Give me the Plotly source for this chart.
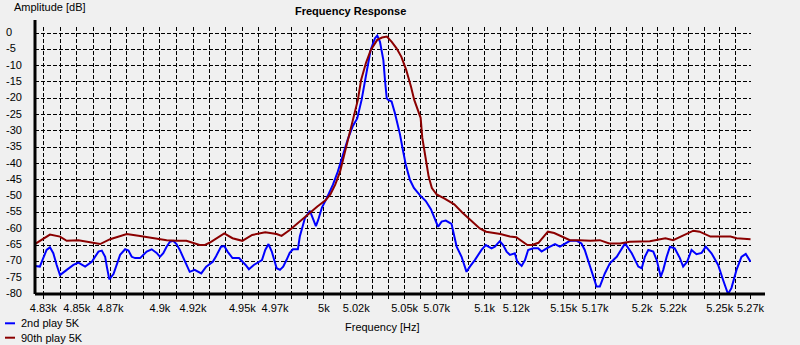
import math
import plotly.graph_objects as go

# ---- data -------------------------------------------------------------
freq_2nd = [4825.0, 4828.0, 4830.0, 4832.0, 4834.0, 4836.0, 4838.0, 4840.0, 4844.0, 4848.0,
            4851.0, 4855.0, 4859.0, 4863.0, 4865.0, 4867.0, 4868.0, 4869.5, 4872.0, 4874.0,
            4876.0, 4879.0, 4881.0, 4883.0, 4885.0, 4888.0, 4892.0, 4895.0, 4898.0, 4900.0,
            4902.0, 4904.0, 4906.0, 4908.0, 4910.0, 4912.0, 4915.0, 4918.0, 4921.0, 4925.0,
            4928.0, 4932.0, 4934.0, 4937.0, 4939.0, 4941.0, 4944.0, 4948.0, 4952.0, 4954.0,
            4957.0, 4959.0, 4962.0, 4964.0, 4966.0, 4968.0, 4971.0, 4973.0, 4975.0, 4977.0,
            4979.0, 4981.0, 4984.0, 4985.2, 4988.3, 4991.4, 4993.5, 4995.1, 4996.5, 4998.8,
            5001.9, 5005.6, 5008.6, 5011.8, 5014.8, 5017.9, 5020.6, 5023.3, 5025.4, 5027.4,
            5028.9, 5031.6, 5033.0, 5034.7, 5036.8, 5037.8, 5038.9, 5039.9, 5041.9, 5044.0,
            5045.1, 5047.1, 5049.0, 5050.8, 5053.3, 5055.8, 5059.5, 5063.2, 5066.4, 5068.9,
            5070.9, 5073.1, 5075.7, 5079.3, 5082.5, 5085.6, 5088.7, 5090.8, 5093.9, 5098.1,
            5100.8, 5104.4, 5106.5, 5109.6, 5111.7, 5113.9, 5116.0, 5119.1, 5120.6, 5123.4,
            5125.5, 5127.5, 5130.6, 5133.8, 5136.0, 5139.2, 5144.5, 5147.6, 5150.8, 5154.0,
            5158.3, 5161.3, 5163.4, 5166.6, 5170.9, 5173.0, 5176.2, 5179.4, 5183.8, 5189.1,
            5193.4, 5197.6, 5199.8, 5201.8, 5204.0, 5207.2, 5209.4, 5212.0, 5213.6, 5215.8,
            5217.9, 5221.0, 5224.3, 5226.4, 5229.0, 5231.8, 5235.0, 5238.3, 5241.0, 5244.7,
            5249.0, 5252.2, 5255.4, 5257.6, 5260.9, 5264.1, 5266.9, 5270.0]
amp_2nd = [-71.4, -71.6, -69.0, -66.5, -65.7, -67.5, -71.1, -74.2, -72.6, -71.1,
           -70.4, -71.6, -70.1, -67.0, -66.7, -68.6, -71.6, -75.5, -73.9, -71.1,
           -68.0, -66.3, -66.7, -68.6, -69.0, -69.0, -67.0, -66.3, -67.4, -68.6,
           -67.5, -65.5, -64.0, -63.7, -64.7, -66.5, -69.6, -73.2, -72.6, -73.7,
           -71.6, -70.1, -68.4, -65.5, -65.3, -67.0, -69.0, -69.0, -71.1, -72.4,
           -71.1, -70.4, -69.6, -66.5, -64.7, -67.0, -72.1, -72.6, -71.6, -69.6,
           -67.4, -66.3, -66.3, -62.4, -56.8, -54.5, -57.3, -59.2, -57.3, -53.5,
           -50.5, -46.5, -42.5, -37.5, -32.5, -28.5, -26.2, -20.5, -14.4, -9.3,
           -5.2, -1.6, -0.8, -2.7, -8.3, -14.4, -20.0, -20.5, -21.0, -24.6,
           -26.7, -31.0, -36.0, -40.5, -45.0, -47.5, -49.7, -51.5, -54.0, -57.3,
           -59.4, -57.8, -57.5, -58.5, -65.5, -68.6, -73.2, -71.6, -69.6, -66.5,
           -65.0, -66.0, -65.5, -63.8, -65.0, -67.0, -68.0, -67.5, -70.1, -71.4,
           -69.6, -66.5, -66.0, -66.0, -67.0, -66.0, -64.7, -65.5, -64.5, -63.7,
           -63.7, -64.5, -66.5, -71.6, -77.7, -77.7, -73.7, -70.6, -68.6, -64.5,
           -67.5, -71.6, -72.1, -68.6, -66.5, -67.0, -69.6, -74.7, -72.6, -68.6,
           -65.5, -66.0, -69.0, -71.6, -70.1, -66.5, -67.8, -67.4, -65.5, -67.5,
           -71.1, -75.7, -80.0, -78.2, -72.6, -68.6, -67.7, -70.1]

freq_90th = [4825.0, 4834.0, 4840.0, 4844.0, 4851.0, 4858.0, 4864.0, 4870.0, 4880.0, 4888.0,
             4898.0, 4904.0, 4910.0, 4916.0, 4924.0, 4927.0, 4930.0, 4936.0, 4939.0, 4944.0,
             4950.0, 4956.0, 4964.0, 4971.0, 4974.0, 4979.0, 4985.0, 4988.0, 4991.0, 4996.0,
             5001.0, 5004.0, 5007.0, 5010.0, 5013.0, 5016.0, 5018.0, 5021.0, 5023.0, 5026.0,
             5029.0, 5033.0, 5036.0, 5039.0, 5042.0, 5045.0, 5048.0, 5051.0, 5054.0, 5056.0,
             5060.0, 5061.0, 5063.0, 5065.0, 5067.0, 5070.0, 5075.0, 5081.0, 5086.0, 5091.0,
             5097.0, 5101.0, 5110.0, 5116.0, 5120.0, 5127.0, 5130.0, 5134.0, 5140.0, 5144.0,
             5150.0, 5154.0, 5160.0, 5167.0, 5173.0, 5179.0, 5186.0, 5192.0, 5205.0, 5215.0,
             5220.0, 5226.0, 5233.0, 5237.0, 5244.0, 5257.0, 5261.0, 5270.0]
amp_90th = [-64.7, -61.8, -62.4, -63.7, -63.5, -64.1, -64.7, -63.2, -61.6, -62.2,
            -63.0, -63.5, -63.7, -63.7, -65.0, -65.0, -64.3, -62.4, -61.4, -62.9,
            -63.7, -61.9, -61.1, -61.6, -62.2, -60.4, -57.8, -56.7, -55.2, -53.2,
            -51.3, -49.5, -46.5, -42.5, -36.5, -30.5, -26.0, -20.5, -14.4, -9.2,
            -5.2, -2.1, -1.4, -1.1, -2.7, -4.7, -7.3, -11.3, -16.5, -20.5,
            -26.0, -32.0, -38.0, -44.0, -47.5, -49.5, -50.8, -52.5, -55.0, -57.3,
            -59.9, -60.9, -61.6, -62.4, -62.6, -65.0, -65.0, -64.3, -60.9, -61.3,
            -62.6, -63.5, -63.5, -63.7, -63.5, -64.5, -64.5, -64.0, -63.8, -62.9,
            -63.5, -62.2, -60.6, -60.9, -62.4, -62.4, -62.9, -63.2]

# grid every 10 Hz, labels only on some of them
grid_freqs = list(range(4830, 5271, 10))
labelled = {4830: "4.83k", 4850: "4.85k", 4870: "4.87k", 4900: "4.9k", 4920: "4.92k",
            4950: "4.95k", 4970: "4.97k", 5000: "5k", 5020: "5.02k", 5050: "5.05k",
            5070: "5.07k", 5100: "5.1k", 5120: "5.12k", 5150: "5.15k", 5170: "5.17k",
            5200: "5.2k", 5220: "5.22k", 5250: "5.25k", 5270: "5.27k"}
y_ticks = list(range(0, -81, -5))

# ---- layout geometry --------------------------------------------------
W, H = 800, 345
ML, MR, MT, MB = 35, 49, 27, 51
PW, PH = W - ML - MR, H - MT - MB
FONT = "Liberation Sans, Arial, sans-serif"
BG = "#F0F0F0"
GRID_DASH = "4px,2px"


def px_x(px):
    return (px - ML) / PW


def px_y(py):
    return (H - MB - py) / PH


fig = go.Figure()
fig.add_trace(go.Scatter(x=freq_2nd, y=amp_2nd, mode="lines", name="2nd play 5K",
                         line=dict(color="#0000FF", width=2)))
fig.add_trace(go.Scatter(x=freq_90th, y=amp_90th, mode="lines", name="90th play 5K",
                         line=dict(color="#8B0000", width=2)))

fig.update_layout(
    width=W, height=H,
    margin=dict(l=ML, r=MR, t=MT, b=MB),
    paper_bgcolor=BG, plot_bgcolor=BG,
    showlegend=False,
    font=dict(family=FONT, size=11, color="#000000"),
)

fig.update_xaxes(
    type="log",
    range=[math.log10(4825.1), math.log10(5270.3)],
    tickvals=grid_freqs,
    ticktext=[labelled.get(f, "") for f in grid_freqs],
    ticks="outside", ticklen=4, tickwidth=1, tickcolor="#000000",
    showgrid=True, gridcolor="#000000", gridwidth=1, griddash=GRID_DASH,
    showline=False, zeroline=False,
    tickfont=dict(family=FONT, size=11, color="#000000"),
    ticklabelstandoff=0,
)
fig.update_yaxes(
    range=[-80, -80 + PH / 3.2625],
    tickvals=y_ticks,
    showticklabels=False,
    showgrid=True, gridcolor="#000000", gridwidth=1, griddash=GRID_DASH,
    showline=False, zeroline=False, ticks="",
)

# axis lines (extend slightly past the grid as drawn by the source chart)
fig.add_shape(type="line", xref="paper", yref="paper",
              x0=0, x1=0, y0=0, y1=px_y(20), line=dict(color="#000000", width=3))
fig.add_shape(type="line", xref="paper", yref="paper",
              x0=0, x1=px_x(765), y0=0, y1=0, line=dict(color="#000000", width=3))

# y tick labels, left aligned
for v in y_ticks:
    fig.add_annotation(text=str(v), xref="paper", yref="y", x=px_x(4), y=v,
                       xanchor="left", yanchor="middle", showarrow=False, yshift=1,
                       font=dict(family=FONT, size=11, color="#000000"))

# titles
fig.add_annotation(text="Amplitude [dB]", xref="paper", yref="paper",
                   x=px_x(12), y=px_y(7.5), xanchor="left", yanchor="middle",
                   showarrow=False, font=dict(family=FONT, size=11, color="#000000"))
fig.add_annotation(text="<b>Frequency Response</b>", xref="paper", yref="paper",
                   x=px_x(350.5), y=px_y(11.5), xanchor="center", yanchor="middle",
                   showarrow=False, font=dict(family=FONT, size=11, color="#000000"))
fig.add_annotation(text="Frequency [Hz]", xref="paper", yref="paper",
                   x=px_x(382), y=px_y(327), xanchor="center", yanchor="middle",
                   showarrow=False, font=dict(family=FONT, size=11, color="#000000"))

# legend
legend_rows = [("2nd play 5K", "#0000FF", 323.3), ("90th play 5K", "#8B0000", 337.7)]
for label, color, py in legend_rows:
    fig.add_shape(type="line", xref="paper", yref="paper",
                  x0=px_x(5), x1=px_x(15), y0=px_y(py), y1=px_y(py),
                  line=dict(color=color, width=2))
    fig.add_annotation(text=label, xref="paper", yref="paper",
                       x=px_x(18.5), y=px_y(py), xanchor="left", yanchor="middle",
                       showarrow=False, font=dict(family=FONT, size=11, color="#000000"))

fig.write_html("out.html")
